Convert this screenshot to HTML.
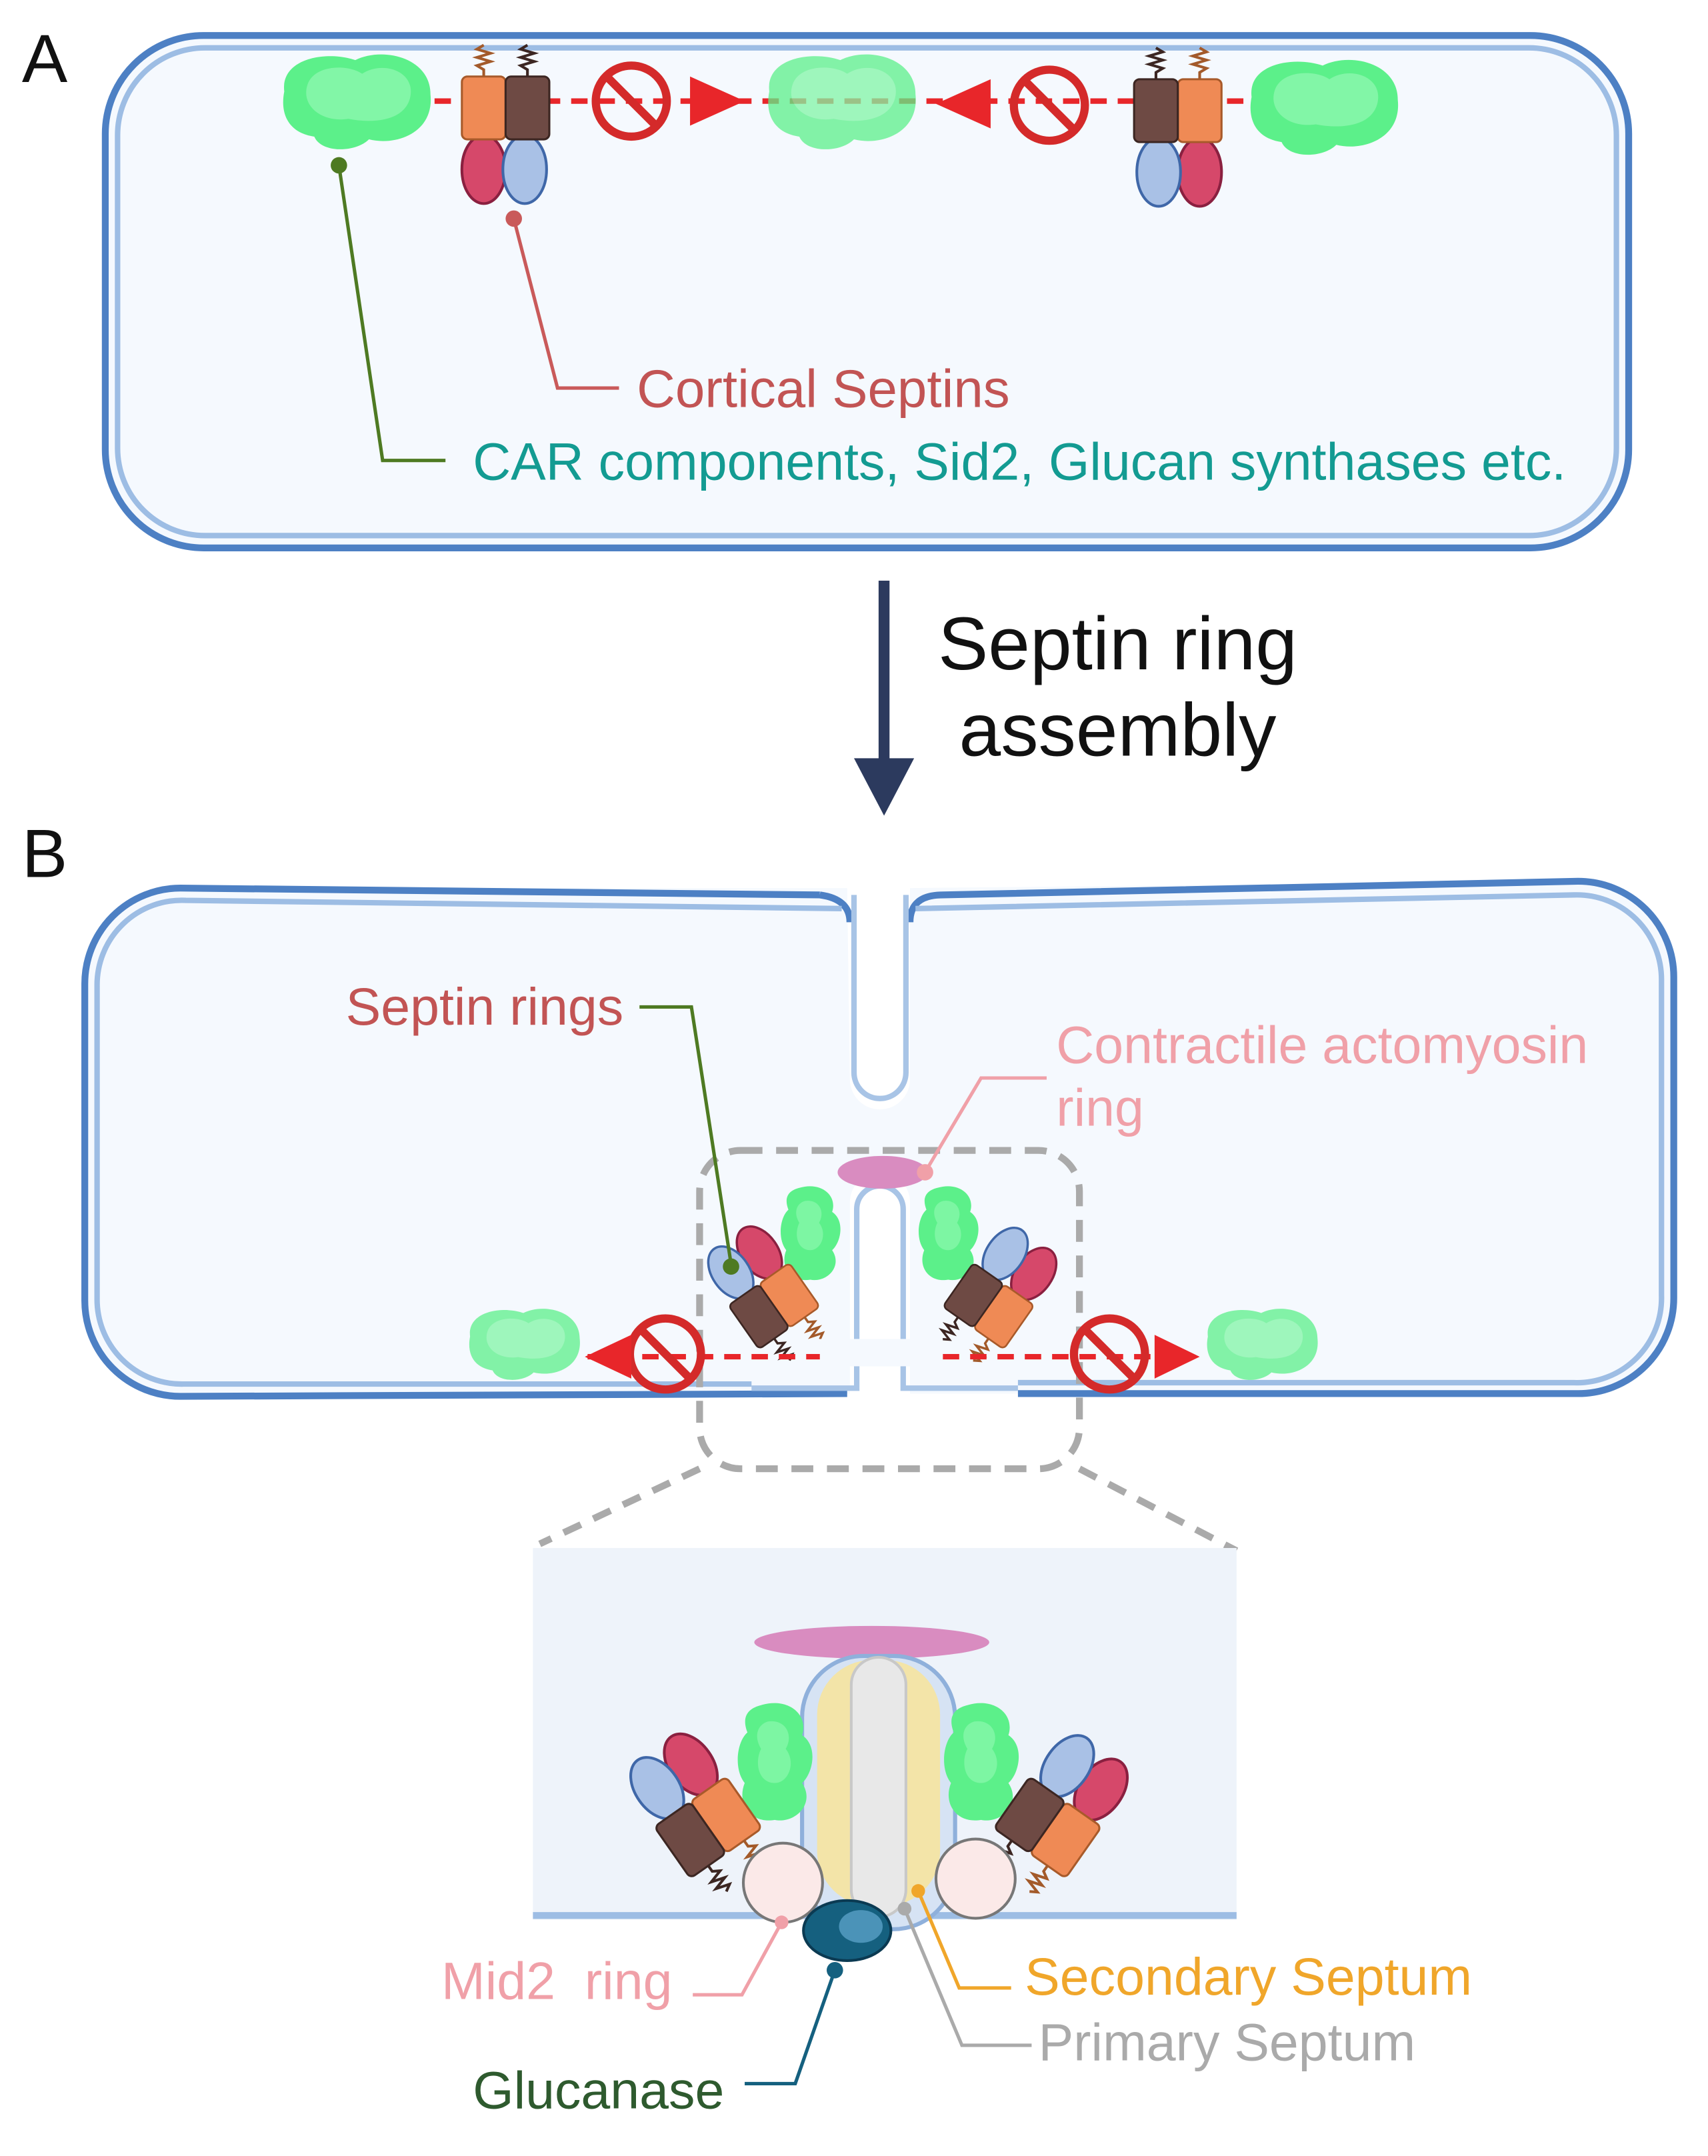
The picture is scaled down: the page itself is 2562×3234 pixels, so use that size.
<!DOCTYPE html>
<html><head><meta charset="utf-8"><style>
html,body{margin:0;padding:0;background:#fff}
svg{display:block}
text{font-family:"Liberation Sans",sans-serif}
</style></head><body>
<svg width="2562" height="3234" viewBox="0 0 1250 1578" xmlns="http://www.w3.org/2000/svg">
<defs>
<g id="blob"><path d="M-52,-5 C-55,-30 -20,-35 0,-28 C20,-38 55,-30 55,-3 C58,25 30,35 10,30 C0,40 -25,40 -30,28 C-50,25 -55,10 -52,-5Z" fill="#5cf08a"/><path d="M-35,-10 C-30,-25 -5,-25 5,-18 C20,-28 45,-20 40,0 C35,18 10,18 -5,15 C-25,18 -40,5 -35,-10Z" fill="#8cf8ae" opacity="0.8"/></g>
<g id="vblob"><path d="M-10,-42 C10,-48 25,-35 20,-20 C32,-12 28,8 20,15 C30,30 15,45 0,42 C-18,45 -28,30 -22,15 C-30,5 -28,-15 -20,-22 C-25,-35 -18,-40 -10,-42Z" fill="#5cf08a"/><path d="M-5,-30 C8,-32 14,-20 8,-10 C16,0 10,15 0,15 C-12,15 -15,0 -10,-10 C-16,-20 -12,-28 -5,-30Z" fill="#8cf8ae" opacity="0.7"/></g>
<g id="nob"><circle r="26" fill="none" stroke="#d42a2a" stroke-width="6"/><line x1="-18" y1="-18" x2="18" y2="18" stroke="#d42a2a" stroke-width="6"/></g>
<g id="sept">
<ellipse cx="-16" cy="48" rx="16" ry="25" fill="#d6486a" stroke="#8a2040" stroke-width="2"/>
<ellipse cx="14" cy="48" rx="16" ry="25" fill="#a9c1e6" stroke="#3f67a8" stroke-width="2"/>
<rect x="-32" y="-20" width="32" height="46" rx="4" fill="#ef8a55" stroke="#a85a2a" stroke-width="1.5"/>
<rect x="0" y="-20" width="32" height="46" rx="4" fill="#6e4a44" stroke="#3c2622" stroke-width="1.5"/>
<path d="M-16,-20 l0,-5 l-5,-3 l10,-3 l-10,-3 l10,-3 l-10,-3 l5,-3" fill="none" stroke="#a35a2a" stroke-width="2"/>
<path d="M16,-20 l0,-5 l-5,-3 l10,-3 l-10,-3 l10,-3 l-10,-3 l5,-3" fill="none" stroke="#3c2622" stroke-width="2"/>
</g>
</defs>

<!-- Panel A -->
<text x="16" y="60" font-size="50" fill="#111">A</text>
<rect x="77" y="26" width="1115" height="375" rx="72" fill="#f5f9fe" stroke="#4d80c4" stroke-width="5"/>
<rect x="86" y="35" width="1097" height="357" rx="64" fill="none" stroke="#9dbde4" stroke-width="4"/>
<line x1="318" y1="74" x2="910" y2="74" stroke="#e8262a" stroke-width="4" stroke-dasharray="12,8"/>
<use href="#blob" x="260" y="72"/>
<use href="#blob" x="615" y="72" opacity="0.75"/>
<use href="#blob" x="968" y="76"/>
<use href="#sept" x="370" y="76"/>
<use href="#sept" x="862" y="78" transform="translate(1724,0) scale(-1,1)"/>
<use href="#nob" x="462" y="74"/>
<use href="#nob" x="768" y="77"/>
<path d="M505,56 L545,74 L505,92Z" fill="#e8262a"/>
<path d="M725,58 L685,76 L725,94Z" fill="#e8262a"/>
<circle cx="248" cy="121" r="6" fill="#4e7a22"/>
<path d="M248,121 L280,337 L326,337" fill="none" stroke="#4e7a22" stroke-width="2.5"/>
<circle cx="376" cy="160" r="6" fill="#c95a5a"/>
<path d="M376,160 L408,284 L453,284" fill="none" stroke="#c95a5a" stroke-width="2.5"/>
<text x="466" y="298" font-size="39" fill="#c25454">Cortical Septins</text>
<text x="346" y="351" font-size="38.5" fill="#139b92">CAR components, Sid2, Glucan synthases etc.</text>

<!-- arrow -->
<line x1="647" y1="425" x2="647" y2="560" stroke="#2c3a5e" stroke-width="8"/>
<path d="M625,555 L669,555 L647,597Z" fill="#2c3a5e"/>
<text x="818" y="490" font-size="55" fill="#111" text-anchor="middle">Septin ring</text>
<text x="818" y="553" font-size="55" fill="#111" text-anchor="middle">assembly</text>

<!-- Panel B -->
<text x="16" y="642" font-size="50" fill="#111">B</text>
<path d="M130,650 L620,650 L622,790 A22,22 0 0 0 666,790 L666,650 L1155,645 A70,70 0 0 1 1225,715 L1225,950 A70,70 0 0 1 1155,1020 L666,1020 L666,880 A22,22 0 0 0 622,880 L622,1020 L132,1022 A70,70 0 0 1 62,952 L62,720 A70,70 0 0 1 130,650Z" fill="#f5f9fe"/>
<path d="M600,655 Q622,658 622,675 M600,655 L132,650 A70,70 0 0 0 62,720 L62,952 A70,70 0 0 0 132,1022 L620,1020" fill="none" stroke="#4d80c4" stroke-width="5"/>
<path d="M616,665 L136,659 A62,62 0 0 0 71,722 L71,950 A62,62 0 0 0 134,1013 L550,1013" fill="none" stroke="#9dbde4" stroke-width="4"/>
<path d="M666,675 Q666,655 690,655 L1155,645 A70,70 0 0 1 1225,715 L1225,950 A70,70 0 0 1 1155,1020 L745,1020" fill="none" stroke="#4d80c4" stroke-width="5"/>
<path d="M670,665 L1152,655 A62,62 0 0 1 1216,718 L1216,948 A62,62 0 0 1 1152,1012 L745,1012" fill="none" stroke="#9dbde4" stroke-width="4"/>
<path d="M625,655 L625,785 A19,19 0 0 0 663,785 L663,655" fill="none" stroke="#a8c4e6" stroke-width="4"/>
<path d="M550,1016 L627,1016 L627,885 A17,17 0 0 1 661,885 L661,1016 L745,1016" fill="none" stroke="#a8c4e6" stroke-width="4"/>

<rect x="512" y="842" width="278" height="233" rx="30" fill="none" stroke="#aaa" stroke-width="5" stroke-dasharray="16,10"/>
<line x1="512" y1="1075" x2="395" y2="1130" stroke="#aaa" stroke-width="5" stroke-dasharray="14,10"/>
<line x1="790" y1="1075" x2="905" y2="1135" stroke="#aaa" stroke-width="5" stroke-dasharray="14,10"/>

<ellipse cx="646" cy="858" rx="33" ry="12" fill="#d98cc0"/>
<use href="#vblob" transform="translate(593,903) scale(0.8)"/>
<use href="#vblob" transform="translate(694,903) scale(0.8)"/>
<g transform="translate(568,958) rotate(-35) scale(0.85)"><use href="#sept" transform="rotate(180)"/></g>
<g transform="translate(722,958) rotate(35) scale(0.85)"><use href="#sept" transform="rotate(180)"/></g>
<line x1="430" y1="993" x2="860" y2="993" stroke="#e8262a" stroke-width="4" stroke-dasharray="12,8"/>
<rect x="600" y="980" width="90" height="20" fill="#f5f9fe"/>
<use href="#blob" transform="translate(383,982) scale(0.75)" opacity="0.75"/>
<use href="#blob" transform="translate(923,982) scale(0.75)" opacity="0.75"/>
<use href="#nob" x="487" y="991"/>
<use href="#nob" x="812" y="991"/>
<path d="M462,977 L428,993 L462,1009Z" fill="#e8262a"/>
<path d="M845,977 L878,993 L845,1009Z" fill="#e8262a"/>

<text x="253" y="750" font-size="38.5" fill="#c25454">Septin rings</text>
<path d="M468,737 L506,737 L535,925" fill="none" stroke="#4e7a22" stroke-width="2.5"/>
<circle cx="535" cy="927" r="6" fill="#4e7a22"/>
<text x="773" y="778" font-size="38.5" fill="#f0a0a8">Contractile actomyosin</text>
<text x="773" y="824" font-size="38.5" fill="#f0a0a8">ring</text>
<path d="M766,789 L718,789 L677,858" fill="none" stroke="#f0a0a8" stroke-width="2.5"/>
<circle cx="677" cy="858" r="6" fill="#f0a0a8"/>

<!-- zoom panel -->
<rect x="390" y="1133" width="515" height="272" fill="#eef3fa"/>
<line x1="390" y1="1402" x2="905" y2="1402" stroke="#9dbde4" stroke-width="5"/>
<ellipse cx="638" cy="1202" rx="86" ry="12" fill="#d98cc0"/>
<rect x="587" y="1212" width="112" height="200" rx="45" fill="#d6e3f4" stroke="#8fb0db" stroke-width="3"/>
<rect x="598" y="1215" width="90" height="180" rx="40" fill="#f3e4a8"/>
<rect x="623" y="1213" width="40" height="190" rx="20" fill="#e8e8e8" stroke="#c8c8c8" stroke-width="2"/>
<use href="#vblob" x="567" y="1290"/>
<use href="#vblob" x="718" y="1290"/>
<g transform="translate(520,1340) rotate(-35)"><use href="#sept" transform="rotate(180)"/></g>
<g transform="translate(765,1340) rotate(35)"><use href="#sept" transform="rotate(180)"/></g>
<circle cx="573" cy="1378" r="29" fill="#fbe9e8" stroke="#777" stroke-width="2"/>
<circle cx="714" cy="1375" r="29" fill="#fbe9e8" stroke="#777" stroke-width="2"/>
<ellipse cx="620" cy="1413" rx="32" ry="22" fill="#15607f" stroke="#0b3a52" stroke-width="2"/>
<ellipse cx="630" cy="1410" rx="16" ry="12" fill="#4b93b8"/>
<circle cx="672" cy="1384" r="5" fill="#f0a62a"/>
<path d="M672,1384 L702,1455 L740,1455" fill="none" stroke="#f0a62a" stroke-width="2.5"/>
<text x="750" y="1460" font-size="38.5" fill="#f0a62a">Secondary Septum</text>
<circle cx="662" cy="1397" r="5" fill="#aaa"/>
<path d="M662,1397 L704,1497 L755,1497" fill="none" stroke="#aaa" stroke-width="2.5"/>
<text x="760" y="1508" font-size="38.5" fill="#aaa">Primary Septum</text>
<circle cx="572" cy="1407" r="5" fill="#f0a0a8"/>
<path d="M572,1407 L543,1460 L507,1460" fill="none" stroke="#f0a0a8" stroke-width="2.5"/>
<text x="323" y="1463" font-size="38.5" fill="#f0a0a8" xml:space="preserve">Mid2  ring</text>
<circle cx="611" cy="1442" r="6" fill="#15607f"/>
<path d="M611,1442 L582,1525 L545,1525" fill="none" stroke="#15607f" stroke-width="2.5"/>
<text x="346" y="1543" font-size="38.5" fill="#2e5a2e">Glucanase</text>
</svg>
</body></html>
